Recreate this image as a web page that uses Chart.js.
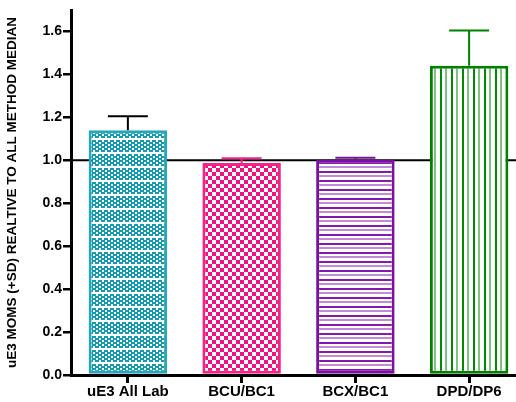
<!DOCTYPE html>
<html>
<head>
<meta charset="utf-8">
<script src="https://cdn.jsdelivr.net/npm/chart.js@4"></script>
<style>
  html, body { margin: 0; padding: 0; background: #fff; overflow: hidden; }
  canvas { display: block; }
</style>
</head>
<body>
<canvas id="momChart" width="526" height="402"></canvas>
<script>
// values
const categories = ["uE3 All Lab", "BCU/BC1", "BCX/BC1", "DPD/DP6"];
const means = [1.14, 0.987, 1.003, 1.44];
const sdTops = [1.205, 1.01, 1.012, 1.605];
const yTicks = [0.0, 0.2, 0.4, 0.6, 0.8, 1.0, 1.2, 1.4, 1.6];
const referenceLine = 1.0;

const borderColors = ["#27a6ba", "#f2238a", "#7c0ea0", "#008200"];
const errorColors = ["#000000", "#f2238a", "#7c0ea0", "#008200"];

const FONT = "'Liberation Sans', Arial, sans-serif";

// little tiles used as bar fills
function makePattern(w, h, paint) {
  const c = document.createElement("canvas");
  c.width = w;
  c.height = h;
  const g = c.getContext("2d");
  g.fillStyle = "#fff";
  g.fillRect(0, 0, w, h);
  paint(g);
  return document.getElementById("momChart").getContext("2d").createPattern(c, "repeat");
}

const fills = [
  // fine teal checker with a white row
  makePattern(6, 14, g => {
    g.fillStyle = "#139bb0";
    g.fillRect(0, 0, 6, 12);
    g.fillStyle = "#fff";
    for (let y = 0; y < 12; y += 2) {
      const x0 = (y / 2) % 2 === 0 ? 0 : 3;
      g.fillRect(x0, y, 2, 2);
    }
  }),
  // coarse pink checker
  makePattern(8, 8, g => {
    g.fillStyle = "#f0127e";
    g.fillRect(0, 0, 4, 4);
    g.fillRect(4, 4, 4, 4);
  }),
  // horizontal purple stripes
  makePattern(4, 9, g => {
    g.fillStyle = "#8518ad";
    g.fillRect(0, 0, 4, 2);
    g.fillStyle = "#c08cd6";
    g.fillRect(0, 4, 4, 2);
  }),
  // vertical green stripes
  makePattern(11, 4, g => {
    g.fillStyle = "#008a00";
    g.fillRect(0, 0, 2, 4);
    g.fillStyle = "#80c080";
    g.fillRect(5, 0, 2, 4);
  })
];

// line at 1.0 behind the bars, SD whiskers on top
const extras = {
  id: "extras",
  beforeDatasetsDraw(chart) {
    const { ctx, chartArea, scales } = chart;
    const y = scales.y.getPixelForValue(referenceLine);
    ctx.save();
    ctx.strokeStyle = "#000";
    ctx.lineWidth = 2;
    ctx.beginPath();
    ctx.moveTo(chartArea.left, y);
    ctx.lineTo(chartArea.right, y);
    ctx.stroke();
    ctx.restore();
  },
  afterDatasetsDraw(chart) {
    const { ctx, scales } = chart;
    const meta = chart.getDatasetMeta(0);
    ctx.save();
    ctx.lineWidth = 2;
    meta.data.forEach((bar, i) => {
      const x = bar.x;
      const yTop = scales.y.getPixelForValue(sdTops[i]);
      const yBase = scales.y.getPixelForValue(means[i]);
      ctx.strokeStyle = errorColors[i];
      ctx.beginPath();
      ctx.moveTo(x, yBase);
      ctx.lineTo(x, yTop);
      ctx.moveTo(x - 20, yTop);
      ctx.lineTo(x + 20, yTop);
      ctx.stroke();
    });
    ctx.restore();
  }
};

new Chart(document.getElementById("momChart"), {
  type: "bar",
  data: {
    labels: categories,
    datasets: [{
      data: means,
      backgroundColor: fills,
      borderColor: borderColors,
      borderWidth: 3,
      borderSkipped: false,
      barPercentage: 0.69,
      categoryPercentage: 1
    }]
  },
  options: {
    responsive: false,
    animation: false,
    layout: { padding: { top: 10, right: 0, left: 0, bottom: 0 } },
    plugins: { legend: { display: false }, tooltip: { enabled: false } },
    scales: {
      x: {
        offset: true,
        grid: { display: true, drawOnChartArea: false, offset: false, color: "#000", lineWidth: 3, tickLength: 8 },
        border: { display: true, color: "#000", width: 3 },
        ticks: { color: "#000", font: { family: FONT, size: 15, weight: "bold" }, padding: 0, maxRotation: 0 },
        afterFit(s) { s.height = 27; }
      },
      y: {
        min: 0,
        max: 1.7,
        grid: { display: true, drawOnChartArea: false, color: "#000", lineWidth: 2.5, tickLength: 8 },
        border: { display: true, color: "#000", width: 3 },
        ticks: {
          color: "#000",
          font: { family: FONT, size: 14, weight: "bold" },
          padding: 1,
          stepSize: 0.2,
          callback: v => Number(v).toFixed(1)
        },
        afterBuildTicks(s) {
          s.ticks = yTicks.map(v => ({ value: v }));
        },
        title: {
          display: true,
          text: "uE3 MOMS (+SD) REALTIVE TO ALL METHOD MEDIAN",
          color: "#000",
          font: { family: FONT, size: 13.5, weight: "bold" },
          padding: { top: 4, bottom: 2 }
        },
        afterFit(s) { s.width = 71; }
      }
    }
  },
  plugins: [extras]
});
</script>
</body>
</html>
